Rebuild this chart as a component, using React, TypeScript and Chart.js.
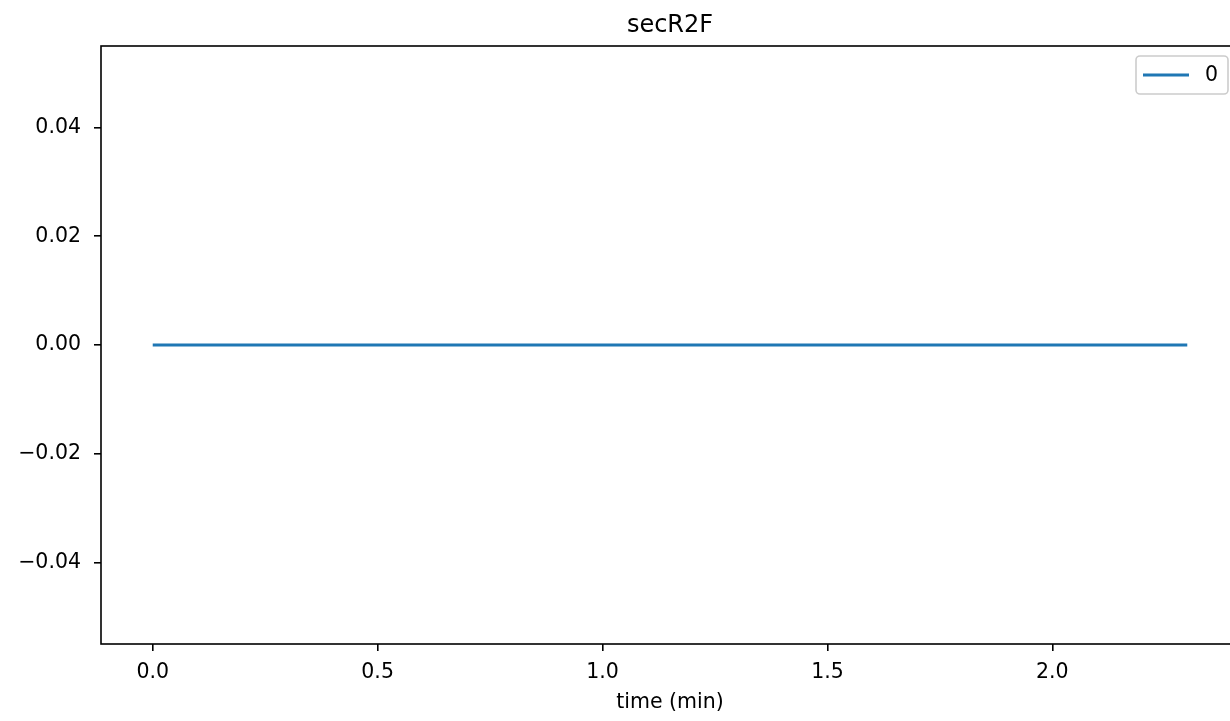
import React, { useEffect, useRef } from "react";
import { Chart, registerables } from "chart.js";

Chart.register(...registerables);

const chartTitle = "secR2F";
const seriesLabel = "0";
const xAxisTitle = "time (min)";
const timeValues = [0.0, 0.1, 0.2, 0.3, 0.4, 0.5, 0.6, 0.7, 0.8, 0.9, 1.0, 1.1, 1.2, 1.3, 1.4, 1.5, 1.6, 1.7, 1.8, 1.9, 2.0, 2.1, 2.2, 2.3];
const seriesValues = [0, 0, 0, 0, 0, 0, 0, 0, 0, 0, 0, 0, 0, 0, 0, 0, 0, 0, 0, 0, 0, 0, 0, 0];
const xTickValues = [0.0, 0.5, 1.0, 1.5, 2.0];
const yTickValues = [-0.04, -0.02, 0.0, 0.02, 0.04];
const xRange = [-0.115, 2.415];
const yRange = [-0.055, 0.055];

const FONT = "'DejaVu Sans', sans-serif";
const LINE_COLOR = "#1f77b4";
const TICK_SIZE = 20.5;

const framePlugin = {
  id: "frameAndDecor",
  afterDraw(chart: any) {
    const { ctx, chartArea } = chart;
    const { left, right, top, bottom } = chartArea;
    ctx.save();
    // spines
    ctx.strokeStyle = "#000";
    ctx.lineWidth = 1.6;
    ctx.strokeRect(left, top, right - left, bottom - top);
    // title
    ctx.fillStyle = "#000";
    ctx.font = `24px ${FONT}`;
    ctx.textAlign = "center";
    ctx.textBaseline = "alphabetic";
    ctx.fillText(chartTitle, (left + right) / 2, 32);
    // legend
    const boxRight = right - 11;
    const boxLeft = boxRight - 92;
    const boxTop = top + 10;
    const boxBottom = top + 48;
    const r = 4;
    ctx.beginPath();
    ctx.moveTo(boxLeft + r, boxTop);
    ctx.lineTo(boxRight - r, boxTop);
    ctx.arcTo(boxRight, boxTop, boxRight, boxTop + r, r);
    ctx.lineTo(boxRight, boxBottom - r);
    ctx.arcTo(boxRight, boxBottom, boxRight - r, boxBottom, r);
    ctx.lineTo(boxLeft + r, boxBottom);
    ctx.arcTo(boxLeft, boxBottom, boxLeft, boxBottom - r, r);
    ctx.lineTo(boxLeft, boxTop + r);
    ctx.arcTo(boxLeft, boxTop, boxLeft + r, boxTop, r);
    ctx.closePath();
    ctx.fillStyle = "rgba(255,255,255,0.8)";
    ctx.fill();
    ctx.strokeStyle = "#cccccc";
    ctx.lineWidth = 1.6;
    ctx.stroke();
    const midY = (boxTop + boxBottom) / 2;
    ctx.beginPath();
    ctx.moveTo(boxLeft + 7, midY);
    ctx.lineTo(boxLeft + 53, midY);
    ctx.strokeStyle = LINE_COLOR;
    ctx.lineWidth = 3;
    ctx.stroke();
    ctx.fillStyle = "#000";
    ctx.font = `${TICK_SIZE}px ${FONT}`;
    ctx.textAlign = "left";
    ctx.textBaseline = "middle";
    ctx.fillText(seriesLabel, boxLeft + 69, midY + 1);
    ctx.restore();
  },
};

export default function App() {
  const canvasRef = useRef<HTMLCanvasElement | null>(null);

  useEffect(() => {
    const canvas = canvasRef.current;
    if (!canvas) return;
    const chart = new Chart(canvas, {
      type: "line",
      data: {
        datasets: [
          {
            label: seriesLabel,
            data: timeValues.map((t, i) => ({ x: t, y: seriesValues[i] })),
            borderColor: LINE_COLOR,
            backgroundColor: LINE_COLOR,
            borderWidth: 3.2,
            pointRadius: 0,
            tension: 0,
            borderCapStyle: "butt",
          },
        ],
      },
      options: {
        animation: false,
        responsive: false,
        maintainAspectRatio: false,
        events: [],
        layout: { padding: { top: 46, left: 0, right: 21, bottom: 0 } },
        plugins: {
          legend: { display: false },
          title: { display: false },
          tooltip: { enabled: false },
        },
        scales: {
          x: {
            type: "linear",
            min: xRange[0],
            max: xRange[1],
            afterBuildTicks: (scale: any) => {
              scale.ticks = xTickValues.map((v) => ({ value: v }));
            },
            afterFit: (scale: any) => {
              scale.height = 77;
            },
            border: { display: false },
            grid: {
              drawOnChartArea: false,
              drawTicks: true,
              tickLength: 7,
              color: "#000",
              lineWidth: 1.6,
            },
            ticks: {
              autoSkip: false,
              maxRotation: 0,
              padding: 9,
              color: "#000",
              font: { family: FONT, size: TICK_SIZE },
              callback: (v: any) => Number(v).toFixed(1),
            },
            title: {
              display: true,
              text: xAxisTitle,
              color: "#000",
              font: { family: FONT, size: TICK_SIZE },
              padding: { top: 0, bottom: 6 },
            },
          },
          y: {
            type: "linear",
            min: yRange[0],
            max: yRange[1],
            afterBuildTicks: (scale: any) => {
              scale.ticks = yTickValues.map((v) => ({ value: v }));
            },
            afterFit: (scale: any) => {
              scale.width = 101;
            },
            border: { display: false },
            grid: {
              drawOnChartArea: false,
              drawTicks: true,
              tickLength: 7,
              color: "#000",
              lineWidth: 1.6,
            },
            ticks: {
              autoSkip: false,
              padding: 13,
              color: "#000",
              font: { family: FONT, size: TICK_SIZE },
              callback: (v: any) => Number(v).toFixed(2).replace("-", "\u2212"),
            },
          },
        },
      },
      plugins: [framePlugin],
    });
    return () => chart.destroy();
  }, []);

  return (
    <div
      style={{
        position: "fixed",
        left: 0,
        top: 0,
        width: 1230,
        height: 721,
        overflow: "hidden",
        background: "#fff",
      }}
    >
      <canvas ref={canvasRef} width={1260} height={721} style={{ display: "block", width: 1260, height: 721 }} />
    </div>
  );
}
